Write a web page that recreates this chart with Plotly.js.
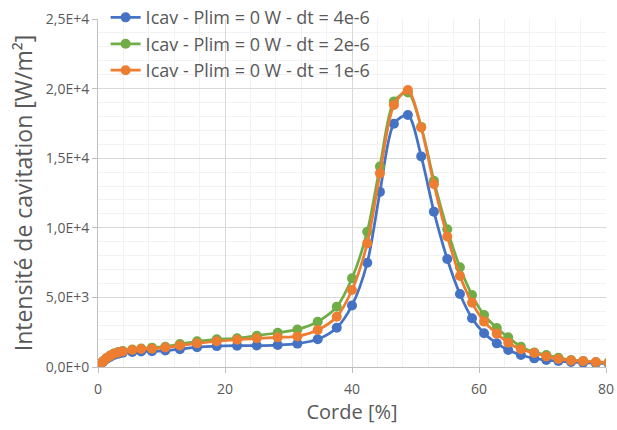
<!DOCTYPE html>
<html>
<head>
<meta charset="utf-8">
<script src="https://cdn.plot.ly/plotly-3.0.1.min.js"></script>
<style>html,body{margin:0;padding:0;background:#fff;}#chart{width:617px;height:430px;}</style>
</head>
<body>
<div id="chart"></div>
<script>
const corde = [0, 0.4, 0.8, 1.3, 1.9, 2.5, 3.2, 3.9, 5.4, 6.8, 8.5, 10.6, 12.9, 15.6, 18.7, 21.9, 25.0, 28.3, 31.4, 34.6, 37.6, 40.0, 42.4, 44.4, 46.6, 48.8, 50.9, 52.9, 55.0, 57.0, 58.9, 60.8, 62.8, 64.6, 66.6, 68.7, 70.6, 72.5, 74.5, 76.4, 78.4, 80.4];
const icavDt4 = [0, 180, 370, 560, 730, 860, 950, 1020, 1080, 1120, 1130, 1180, 1280, 1420, 1500, 1530, 1540, 1580, 1680, 1990, 2820, 4420, 7490, 12580, 17480, 18100, 15130, 11160, 7760, 5240, 3500, 2420, 1700, 1220, 860, 620, 500, 430, 360, 310, 270, 250];
const icavDt2 = [0, 210, 420, 630, 820, 970, 1080, 1150, 1260, 1330, 1390, 1460, 1650, 1850, 1990, 2060, 2250, 2460, 2700, 3250, 4330, 6370, 9720, 14400, 19080, 19720, 17250, 13380, 9890, 7160, 5170, 3740, 2800, 2130, 1460, 1050, 860, 670, 500, 430, 340, 320];
const icavDt1 = [0, 200, 410, 610, 800, 950, 1050, 1110, 1220, 1290, 1310, 1400, 1540, 1700, 1850, 1960, 2060, 2130, 2200, 2660, 3610, 5530, 8880, 13910, 18820, 19900, 17200, 13130, 9380, 6540, 4620, 3260, 2400, 1750, 1270, 1000, 760, 570, 460, 420, 360, 320];
const seriesNames = ['Icav - Plim = 0 W - dt = 4e-6', 'Icav - Plim = 0 W - dt = 2e-6', 'Icav - Plim = 0 W - dt = 1e-6'];
const yTickVals = [0, 5000, 10000, 15000, 20000, 25000];
const yTickText = ['0,0E+0', '5,0E+3', '1,0E+4', '1,5E+4', '2,0E+4', '2,5E+4'];
const xTickVals = [0, 20, 40, 60, 80];

const colors = ['#4472C4', '#70AD47', '#ED7D31'];
const ys = [icavDt4, icavDt2, icavDt1];
const traces = ys.map((y, i) => ({
  x: corde, y: y, name: seriesNames[i], type: 'scatter', mode: 'lines+markers',
  line: {color: colors[i], width: 2.75, shape: 'spline', smoothing: 0.8},
  marker: {color: colors[i], size: 10}
}));

const grey = '#595959';
const layout = {
  width: 617, height: 430,
  margin: {l: 98, r: 11, t: 19, b: 63, autoexpand: false},
  paper_bgcolor: '#fff', plot_bgcolor: '#fff',
  font: {family: 'Open Sans, sans-serif', color: grey},
  showlegend: true,
  legend: {x: 0.015, y: 1.057, xanchor: 'left', yanchor: 'top', bgcolor: 'rgba(0,0,0,0)',
           font: {size: 18, color: grey}, tracegroupgap: 0, itemwidth: 30},
  xaxis: {range: [0, 80], tickvals: xTickVals, ticktext: xTickVals.map(String),
          showgrid: true, gridcolor: '#D9D9D9', gridwidth: 1,
          minor: {dtick: 4, tick0: 0, showgrid: true, gridcolor: '#F2F2F2', gridwidth: 1},
          showline: true, linecolor: '#BFBFBF', linewidth: 1,
          ticks: 'outside', ticklen: 5, tickcolor: '#BFBFBF',
          zeroline: false, tickfont: {size: 14, color: grey}, ticklabelstandoff: 4,
          title: {text: 'Corde [%]', font: {size: 20, color: grey}, standoff: 6}},
  yaxis: {range: [0, 25000], tickvals: yTickVals, ticktext: yTickText,
          showgrid: true, gridcolor: '#D9D9D9', gridwidth: 1,
          minor: {dtick: 1000, tick0: 0, showgrid: true, gridcolor: '#F2F2F2', gridwidth: 1},
          showline: true, linecolor: '#BFBFBF', linewidth: 1,
          ticks: 'outside', ticklen: 5, tickcolor: '#BFBFBF',
          zeroline: false, tickfont: {size: 14, color: grey},
          title: {text: 'Intensité de cavitation [W/m²]', font: {size: 23, color: grey}, standoff: 6}}
};
Plotly.newPlot('chart', traces, layout, {displayModeBar: false, staticPlot: true});
</script>
</body>
</html>
